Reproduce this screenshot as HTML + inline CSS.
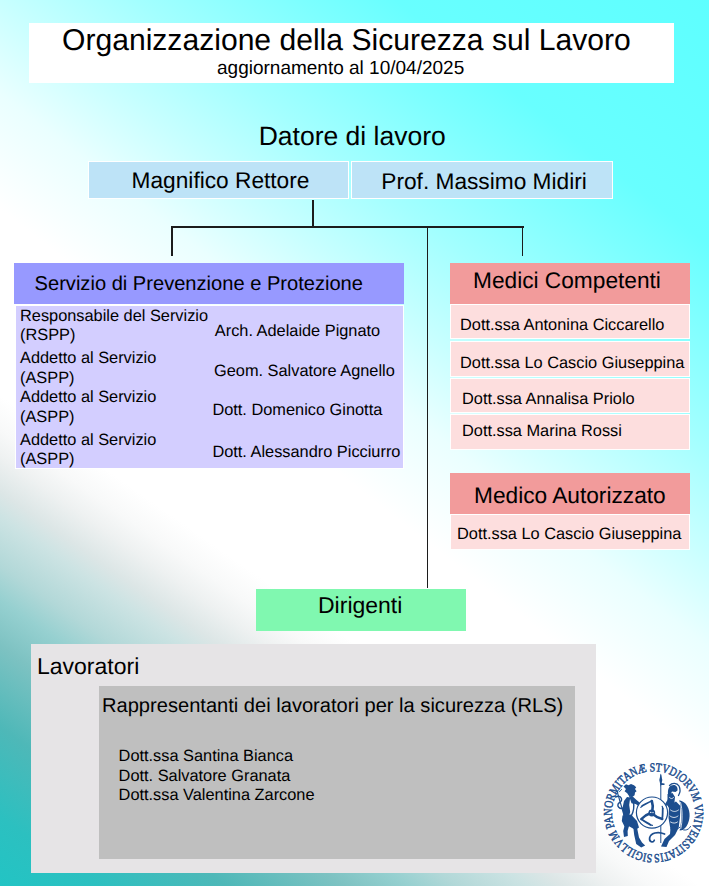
<!DOCTYPE html>
<html><head><meta charset="utf-8">
<style>
html,body{margin:0;padding:0;}
body{width:709px;height:886px;position:relative;overflow:hidden;font-family:"Liberation Sans",sans-serif;color:#000;
background:linear-gradient(35deg,#22C4C4 0%,#2CC0C0 5%,#4EB8B8 11.5%,#7DC2C2 17.4%,#96D0D0 20.7%,#B2D8D8 23.2%,#CCE3E3 26.7%,#DCE6E6 28.5%,#EEF1F1 31%,#F8F9F9 33%,#FFFFFF 35.5%,rgba(255,255,255,0) 36%),linear-gradient(38deg,#FFFFFF 0%,#FFFFFF 47%,#EAFFFF 55%,#C8FFFF 61.5%,#A3FFFF 69%,#7CFFFF 78%,#68FFFF 83%,#5EFFFF 100%);}
.a{position:absolute;box-sizing:border-box;}
.bx{border:1.3px solid #FFFFFF;background:#FDDEDE;}
.t{position:absolute;white-space:nowrap;line-height:1;transform-origin:0 0.85em;text-rendering:geometricPrecision;}
.ln{position:absolute;background:#1C1C1C;}
</style></head><body>

<div class="a" style="left:29px;top:23px;width:645px;height:59.5px;background:#fff"></div>
<div class="a bx" style="left:88.2px;top:161px;width:261.3px;height:38.3px;background:#BDE3F7;border-width:1.4px"></div>
<div class="a bx" style="left:351.2px;top:161px;width:261.8px;height:38.3px;background:#BDE3F7;border-width:1.4px"></div>
<div class="ln" style="left:312.4px;top:200px;width:1.6px;height:27.6px"></div>
<div class="ln" style="left:171px;top:226.1px;width:352.5px;height:1.6px"></div>
<div class="ln" style="left:171px;top:226.1px;width:1.7px;height:30px"></div>
<div class="ln" style="left:521.6px;top:226.1px;width:1.7px;height:30px"></div>
<div class="ln" style="left:426.6px;top:226.1px;width:1.6px;height:361.8px"></div>
<div class="a" style="left:14px;top:262.9px;width:390px;height:41.2px;background:#9799FF"></div>
<div class="a bx" style="left:14.8px;top:304.6px;width:389.4px;height:164.5px;background:#D3CEFF"></div>
<div class="a" style="left:450.3px;top:262.8px;width:240px;height:40.9px;background:#F29B9B"></div>
<div class="a bx" style="left:450px;top:304px;width:240.3px;height:35.1px"></div>
<div class="a bx" style="left:450px;top:340.8px;width:240.3px;height:35.9px"></div>
<div class="a bx" style="left:450px;top:378px;width:240.3px;height:35.3px"></div>
<div class="a bx" style="left:450px;top:414.1px;width:240.3px;height:35.8px"></div>
<div class="a" style="left:450.3px;top:472.7px;width:240px;height:41.2px;background:#F29B9B"></div>
<div class="a bx" style="left:450px;top:514.4px;width:240.3px;height:36px"></div>
<div class="a" style="left:255.6px;top:589.3px;width:210.2px;height:41.6px;background:#80F8B0"></div>
<div class="a" style="left:31.2px;top:644px;width:564.8px;height:228.5px;background:#E6E4E6"></div>
<div class="a" style="left:99.1px;top:686.2px;width:476.2px;height:172.5px;background:#BFBFBF"></div>

<div class="t" style="left:62px;top:26px;font-size:30.1px">Organizzazione della Sicurezza sul Lavoro</div>
<div class="t" style="left:217px;top:58.8px;font-size:19px">aggiornamento al 10/04/2025</div>
<div class="t" style="left:258.7px;top:123px;font-size:26.5px">Datore di lavoro</div>
<div class="t" style="left:131.6px;top:168.8px;font-size:22.7px">Magnifico Rettore</div>
<div class="t" style="left:381.3px;top:170.2px;font-size:22.7px">Prof. Massimo Midiri</div>
<div class="t" style="left:34.6px;top:274px;font-size:20.1px">Servizio di Prevenzione e Protezione</div>
<div class="t" style="left:20px;top:307.9px;font-size:16.35px">Responsabile del Servizio</div>
<div class="t" style="left:20px;top:327.2px;font-size:16.35px">(RSPP)</div>
<div class="t" style="left:20px;top:350px;font-size:16.35px">Addetto al Servizio</div>
<div class="t" style="left:20px;top:370px;font-size:16.35px">(ASPP)</div>
<div class="t" style="left:20px;top:389.2px;font-size:16.35px">Addetto al Servizio</div>
<div class="t" style="left:20px;top:409.3px;font-size:16.35px">(ASPP)</div>
<div class="t" style="left:20px;top:431.9px;font-size:16.35px">Addetto al Servizio</div>
<div class="t" style="left:20px;top:451.4px;font-size:16.35px">(ASPP)</div>
<div class="t" style="left:214.8px;top:322.6px;font-size:16.35px">Arch. Adelaide Pignato</div>
<div class="t" style="left:214px;top:363px;font-size:16.35px">Geom. Salvatore Agnello</div>
<div class="t" style="left:212.4px;top:402.1px;font-size:16.35px">Dott. Domenico Ginotta</div>
<div class="t" style="left:212.4px;top:444.4px;font-size:16.35px">Dott. Alessandro Picciurro</div>
<div class="t" style="left:473.0px;top:269.4px;font-size:22.7px">Medici Competenti</div>
<div class="t" style="left:460px;top:317.4px;font-size:16.35px">Dott.ssa Antonina Ciccarello</div>
<div class="t" style="left:460px;top:355px;font-size:16.35px">Dott.ssa Lo Cascio Giuseppina</div>
<div class="t" style="left:462px;top:391px;font-size:16.35px">Dott.ssa Annalisa Priolo</div>
<div class="t" style="left:462px;top:423.2px;font-size:16.35px">Dott.ssa Marina Rossi</div>
<div class="t" style="left:474.0px;top:484.4px;font-size:22.7px">Medico Autorizzato</div>
<div class="t" style="left:457px;top:526px;font-size:16.35px">Dott.ssa Lo Cascio Giuseppina</div>
<div class="t" style="left:318px;top:594.2px;font-size:23px">Dirigenti</div>
<div class="t" style="left:37px;top:654.6px;font-size:23px">Lavoratori</div>
<div class="t" style="left:102px;top:696.4px;font-size:20.1px">Rappresentanti dei lavoratori per la sicurezza (RLS)</div>
<div class="t" style="left:118.6px;top:748px;font-size:16.35px">Dott.ssa Santina Bianca</div>
<div class="t" style="left:118.6px;top:767.7px;font-size:16.35px">Dott. Salvatore Granata</div>
<div class="t" style="left:118.6px;top:787.4px;font-size:16.35px">Dott.ssa Valentina Zarcone</div>
<svg width="113" height="113" viewBox="596 756 113 113" style="position:absolute;left:596px;top:756px;overflow:visible">
<defs><path id="ring" d="M653.5,854.3 A41.5,41.5 0 1 1 653.5,771.3 A41.5,41.5 0 1 1 653.5,854.3"/></defs>
<text font-family="Liberation Serif" font-size="12.3" fill="#1D4E8E" stroke="#1D4E8E" stroke-width="0.5"><textPath href="#ring" startOffset="1" textLength="259" lengthAdjust="spacingAndGlyphs">SIGILLVM PANORMITANÆ STVDIORVM VNIVERSITATIS</textPath></text>
<g fill="#1D4E8E" stroke="none">
<path d="M623.5,786.5 L626,784.3 L628.5,785.3 L631,784 L634,785.2 L636.2,787.3 L635,789 L636.6,791.2 L635,792.6 L634.6,795.2 L632,797.2 L629.2,796.2 L627.2,793.2 L624.6,791.2 L626,789 Z"/>
<path d="M629,796 L633,796.8 L636.5,800 L640.5,803.2 L639.5,806.2 L635.5,804 L631.5,803.2 Z"/>
<path d="M622.5,815.5 L631,814.5 L637,821 L639,827.5 L635.5,830 L629.5,826.5 L624.5,826.5 L621.8,821 Z"/>
<path d="M624.8,825 L629,826 L627.6,831 L627.8,836 L624,837 L623.2,831 Z"/>
<path d="M633.2,826.5 L637.2,828.5 L639,837.5 L642,842.5 L645.2,845.6 L641.2,847.6 L636.2,844 L634.2,835 Z"/>
</g>
<g stroke="#1D4E8E" fill="none" stroke-linecap="round" stroke-linejoin="round">
<path d="M627,797 L630.2,797.5 L629.2,805 L630.2,812 L628.7,817 L623.5,816.5 L622.5,808 L624,801 Z" fill="#1D4E8E" stroke="none"/>
<path d="M633,800.5 C634.5,806 633.5,812 631,816.5" stroke-width="1.4"/>
<path d="M617,791 L624.5,817" stroke-width="1.1"/>
<path d="M615.6,797 C621,794.6 623.6,799.6 619.4,802.6 C615.4,805.6 620,810.2 624,807.6" stroke-width="1.4"/>
<path d="M615.4,792.6 L618.4,790.4 M619.2,792 L621.6,789.4" stroke-width="0.9"/>
</g>
<g fill="#1D4E8E" stroke="none">
<path d="M660.3,774.5 L661.3,774.5 L661.3,843 L660.3,843 Z"/>
<path d="M660.8,773.5 L662.3,780 L660.8,787 L659.3,780 Z"/>
<path d="M661,783 L664.5,783.5 L664.5,785 L661,785 Z"/>
<path d="M668,794 C667.5,788 670,785 673.5,785 C676.5,785 678,787.5 677.5,790.5 L675.5,792 L672,791.5 L670.5,794.5 Z"/>
<path d="M667.5,794 L672.5,793 L675,797 L674.5,802 L672,807 L668.5,807.5 L666.5,803 L667.5,799 Z"/>
<path d="M667,801 L672,802 L671.5,805.2 L664,805.8 Z"/>
<path d="M669,805 L676,801.5 L680.5,806 L680,817 L678.5,829 L670.5,829.5 L668.5,818 Z"/>
<path d="M679.2,800.2 C686.2,801.2 690,809 689.6,816 C689.2,824 685.2,830.2 679.6,830.6 C681.8,822.2 682.2,808.2 679.2,800.2 Z"/>
<path d="M670.5,828 L678.5,828 L675,835 L669,841 L666.5,847 L661,846.5 L664.5,839 L670,834 Z"/>
</g>
<g stroke="#1D4E8E" fill="none" stroke-linecap="round">
<path d="M669.5,785.5 C672,782.5 677,782.5 679,786 C680.5,789 680,793 678.5,795.5" stroke-width="1.3"/>
<path d="M679,827 C683,831.5 688,831 690.5,826.5" stroke-width="1"/>
</g>
<g stroke="#FFFFFF" fill="none" stroke-width="0.8" stroke-linecap="round">
<path d="M670.5,810 C673,812 676,812 678.5,810"/>
<path d="M670,816 C672.5,818 675.5,818 678,816"/>
<path d="M670.5,822 C673,823.5 675.5,823.5 677.5,822"/>
<path d="M680.6,802.5 C682.6,810 682.6,821 680.8,828.5"/>
<path d="M669.5,797.5 C671,799 672.5,799 673.5,797.5"/>
</g>
<path d="M664.6,834 C657.6,831 650.6,833 649.6,838 C649.1,842 653.1,843.2 654.3,840.2" stroke="#1D4E8E" fill="none" stroke-width="1.7" stroke-linecap="round"/>
<circle cx="652" cy="812.6" r="15.6" fill="#FFFFFF" stroke="#1D4E8E" stroke-width="1.2"/>
<g transform="translate(651.8,813)" stroke="#1D4E8E" fill="none" stroke-linecap="round" stroke-linejoin="round">
<g id="leg"><path d="M0.5,-2 C1.5,-6 1,-9 0,-12" stroke-width="2.6"/><path d="M0,-12 C-3,-11 -6,-9 -9.5,-7.2" stroke-width="1.8"/><path d="M-9.5,-7.2 L-11,-5.6" stroke-width="1.2"/></g>
<use href="#leg" transform="rotate(120)"/>
<use href="#leg" transform="rotate(240)"/>
<circle r="3.4" fill="#1D4E8E" stroke="none"/>
<circle cx="-1" cy="-0.6" r="0.7" fill="#FFFFFF" stroke="none"/>
<circle cx="1.2" cy="-0.4" r="0.7" fill="#FFFFFF" stroke="none"/>
</g>
</svg>

</body></html>
